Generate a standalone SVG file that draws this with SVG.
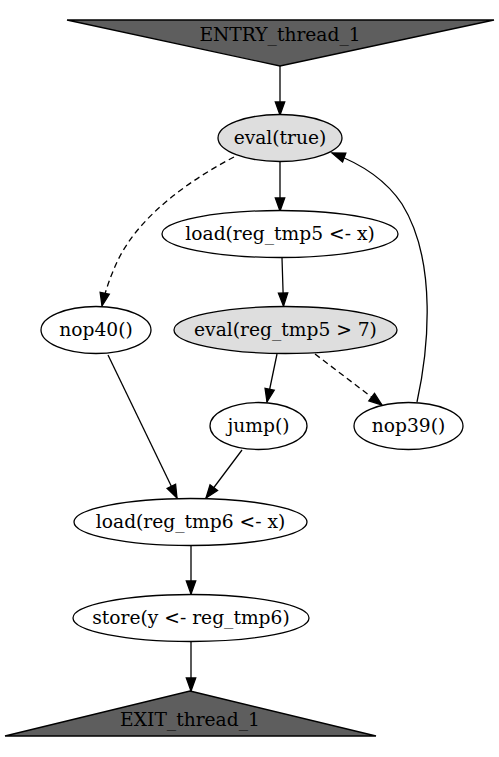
<svg xmlns="http://www.w3.org/2000/svg" width="499" height="757" viewBox="0 0 499 757">
<style>
.n ellipse{stroke:#000;stroke-width:1.3;fill:#fff}
.n ellipse.g{fill:#dedede}
.n polygon{stroke:#000;stroke-width:1.3;fill:#5e5e5e}
text{font-family:"DejaVu Serif","Liberation Serif",serif;font-size:18.67px;text-anchor:middle;fill:#000}
#edges path{fill:none;stroke:#000;stroke-width:1.3;marker-end:url(#ah)}
#edges path.d{stroke-dasharray:6,4}
</style>
<defs>
<marker id="ah" markerUnits="userSpaceOnUse" markerWidth="16" markerHeight="12" refX="13" refY="5" orient="auto" overflow="visible">
<path d="M0,0.3 L13,5 L0,9.7 Z" fill="#000" stroke="#000" stroke-width="1.3" stroke-dasharray="none"/>
</marker>
</defs>
<rect width="499" height="757" fill="#fff"/>
<g id="edges">
<path d="M280,66 L280,115"/>
<path d="M280,162 L280,211"/>
<path d="M282,258 L283.5,306"/>
<path d="M277,354 L267,402"/>
<path class="d" d="M315,354 L382,405"/>
<path d="M417,402 C428,352 438,262 402,204 C386,180 362,164 332,153"/>
<path class="d" d="M234,157 C190,180 140,215 118,260 C110,277 105,292 102,306"/>
<path d="M108,355 L177,498"/>
<path d="M242,450 L206,498"/>
<path d="M191,546 L191,594"/>
<path d="M191,642 L191,691"/>
</g>
<g id="entry" class="n"><polygon points="67,20 494,20 280,66"/><text x="280" y="41">ENTRY_thread_1</text></g>
<g id="eval_true" class="n"><ellipse class="g" cx="280" cy="138" rx="62" ry="23.5"/><text x="280" y="144">eval(true)</text></g>
<g id="load5" class="n"><ellipse cx="280" cy="234" rx="118" ry="23.5"/><text x="280" y="240">load(reg_tmp5 &lt;- x)</text></g>
<g id="nop40" class="n"><ellipse cx="96" cy="330" rx="55" ry="23.5"/><text x="96" y="336">nop40()</text></g>
<g id="eval7" class="n"><ellipse class="g" cx="285.5" cy="330" rx="111.5" ry="23.5"/><text x="285.5" y="336">eval(reg_tmp5 &gt; 7)</text></g>
<g id="jump" class="n"><ellipse cx="258.5" cy="426" rx="48.5" ry="23.5"/><text x="258.5" y="432">jump()</text></g>
<g id="nop39" class="n"><ellipse cx="408.5" cy="426" rx="54.5" ry="23.5"/><text x="408.5" y="432">nop39()</text></g>
<g id="load6" class="n"><ellipse cx="190.5" cy="522" rx="116.5" ry="23.5"/><text x="190.5" y="528">load(reg_tmp6 &lt;- x)</text></g>
<g id="store" class="n"><ellipse cx="191" cy="618" rx="118" ry="23.5"/><text x="191" y="624">store(y &lt;- reg_tmp6)</text></g>
<g id="exit" class="n"><polygon points="190,691 376,736 5,736"/><text x="190" y="726">EXIT_thread_1</text></g>
</svg>
